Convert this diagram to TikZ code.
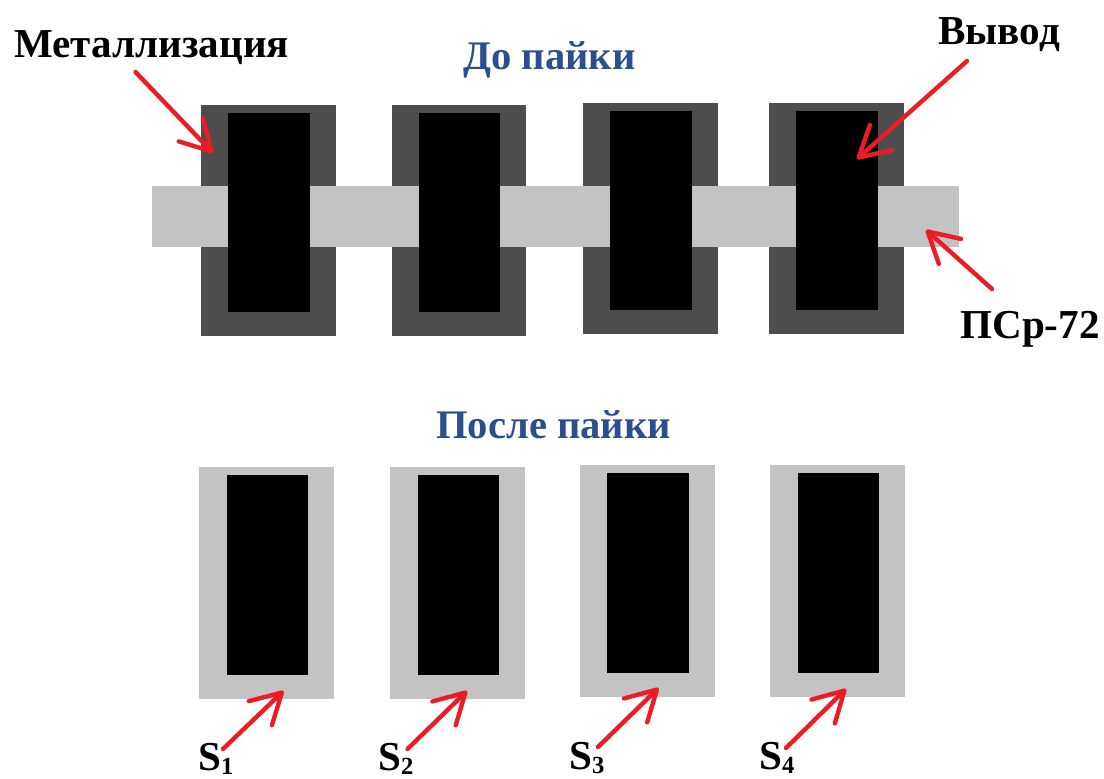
\documentclass[tikz,border=0pt]{standalone}
\usepackage{fontspec}
\setmainfont{Liberation Serif}
\usetikzlibrary{arrows.meta}
\definecolor{padgray}{HTML}{4D4D4D}
\definecolor{solgray}{HTML}{C3C3C3}
\definecolor{headblue}{HTML}{2B4F8C}
\definecolor{handred}{HTML}{ED1C24}
\newcommand{\lowindex}[1]{\raisebox{-2.5pt}{\fontsize{14}{14}\selectfont #1}}

\begin{document}
\begin{tikzpicture}[x=0.02cm, y=-0.02cm,
pad/.style={rectangle, fill=padgray, inner sep=0pt, minimum width=2.7cm, minimum height=4.62cm},
joint/.style={rectangle, fill=solgray, inner sep=0pt, minimum width=2.7cm, minimum height=4.64cm},
lead/.style={rectangle, fill=black, inner sep=0pt, minimum width=1.63cm, minimum height=3.99cm},
solder/.style={rectangle, fill=solgray, inner sep=0pt, minimum width=16.14cm, minimum height=1.21cm},
caption/.style={inner sep=0pt, anchor=base west, font=\fontsize{23.4}{23.4}\selectfont\bfseries},
heading/.style={inner sep=0pt, anchor=base west, text=headblue, font=\fontsize{23.1}{23.1}\selectfont\bfseries},
pointer/.style={draw=handred, line width=2.5pt, line cap=round, -{Straight Barb[length=17pt, width=19pt, line width=2.5pt, round]}}]

\useasboundingbox (0,0) rectangle (1104,778);

\node[pad] (pad1) at (268.5,220.5) {};
\node[pad] (pad2) at (459,220.5) {};
\node[pad] (pad3) at (650.5,218.5) {};
\node[pad] (pad4) at (836.5,218.5) {};
\node[solder] (solder) at (555.5,216.5) {};
\node[lead] (lead1) at (269,212.5) {};
\node[lead] (lead2) at (459.5,212.5) {};
\node[lead] (lead3) at (651,210.5) {};
\node[lead] (lead4) at (837,210.5) {};

\node[joint] (joint1) at (266.5,583) {};
\node[joint] (joint2) at (457.5,583) {};
\node[joint] (joint3) at (647,581) {};
\node[joint] (joint4) at (837.5,581) {};
\node[lead] (bottom1) at (267.5,575) {};
\node[lead] (bottom2) at (458.5,575) {};
\node[lead] (bottom3) at (648,573) {};
\node[lead] (bottom4) at (838.5,573) {};

\node[caption] (metal) at (14,57) {Металлизация};
\node[caption] (wire) at (938,44) {Вывод};
\node[caption] (alloy) at (960,338) {ПСр-72};
\node[heading] (before) at (463,69) {До пайки};
\node[heading] (after) at (436,438) {После пайки};
\node[caption] (s1) at (198,770) {S\lowindex{1}};
\node[caption] (s2) at (378,770) {S\lowindex{2}};
\node[caption] (s3) at (569,769) {S\lowindex{3}};
\node[caption] (s4) at (759,769) {S\lowindex{4}};

\coordinate (metaltail) at (135.5,72);
\coordinate (metaltip) at (213,153);
\coordinate (wiretail) at (967,61);
\coordinate (wiretip) at (857,159);
\coordinate (alloytail) at (992,289);
\coordinate (alloytip) at (926,230);
\coordinate (s1tail) at (223,749);
\coordinate (s1tip) at (283.5,691);
\coordinate (s2tail) at (407.5,749);
\coordinate (s2tip) at (467,691);
\coordinate (s3tail) at (598,747);
\coordinate (s3tip) at (658.5,688);
\coordinate (s4tail) at (786,748);
\coordinate (s4tip) at (846,689);

\draw[pointer] (metaltail) -- (metaltip);
\draw[pointer] (wiretail) -- (wiretip);
\draw[pointer] (alloytail) -- (alloytip);
\draw[pointer] (s1tail) -- (s1tip);
\draw[pointer] (s2tail) -- (s2tip);
\draw[pointer] (s3tail) -- (s3tip);
\draw[pointer] (s4tail) -- (s4tip);

\end{tikzpicture}
\end{document}
